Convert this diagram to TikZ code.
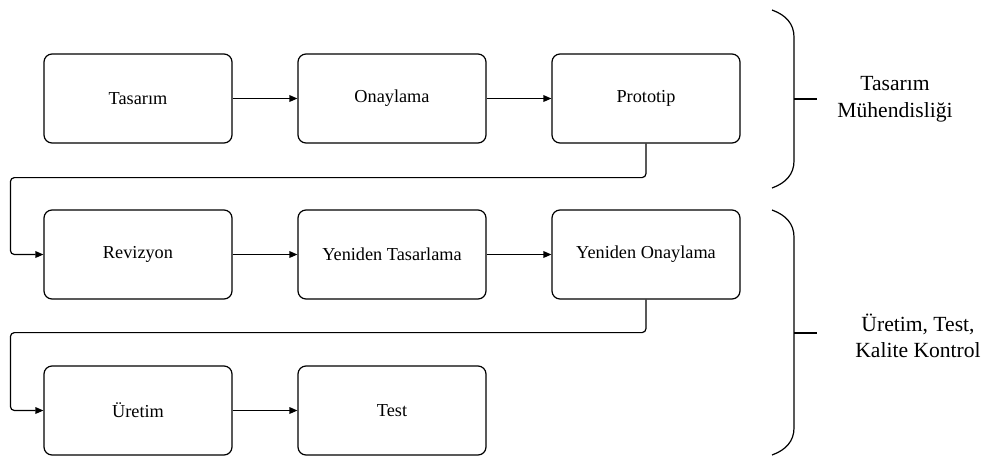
\documentclass[tikz,border=0pt]{standalone}
\usepackage{fontspec}
\setmainfont{Liberation Serif}
\usetikzlibrary{arrows.meta}
\tikzset{
  stepbox/.style={draw, line width=0.9pt, rounded corners=6pt,
    minimum width=141pt, minimum height=66.75pt, inner sep=0pt,
    font=\fontsize{13.7}{16}\selectfont},
  flow/.style={line width=0.9pt, -{Triangle[length=6pt,width=5pt]}},
  loopback/.style={flow, rounded corners=3pt},
  bracket/.style={line width=0.9pt},
  grouplabel/.style={align=center, font=\fontsize{16.2}{20}\selectfont}
}
\begin{document}
\begin{tikzpicture}[x=0.75pt,y=-0.75pt]
\useasboundingbox (0,0) rectangle (983,458);

% process steps
\node[stepbox] (tas) at (138,98.5) {Tasarım};
\node[stepbox] (ona) at (392,98.5) {Onaylama};
\node[stepbox] (pro) at (646,98.5) {Prototip};
\node[stepbox] (rev) at (138,254.5) {Revizyon};
\node[stepbox] (yta) at (392,254.5) {Yeniden Tasarlama};
\node[stepbox] (yon) at (646,254.5) {Yeniden Onaylama};
\node[stepbox] (ure) at (138,410.5) {Üretim};
\node[stepbox] (tes) at (392,410.5) {Test};

% straight links
\draw[flow] (tas) -- (ona);
\draw[flow] (ona) -- (pro);
\draw[flow] (rev) -- (yta);
\draw[flow] (yta) -- (yon);
\draw[flow] (ure) -- (tes);

% row-to-row links
\draw[loopback] (pro.south) -- ++(0,34) -| ([xshift=-24.75pt]rev.west) -- (rev.west);
\draw[loopback] (yon.south) -- ++(0,33) -| ([xshift=-24.75pt]ure.west) -- (ure.west);

% group brackets
\coordinate (b1) at (794,99);
\coordinate (b2) at (794,333);
\draw[bracket] (772,10) .. controls (786,15) and (794,24) .. (794,37)
  -- (794,161) .. controls (794,174) and (786,183) .. (772,188);
\draw[bracket] (772,210) .. controls (786,215) and (794,224) .. (794,237)
  -- (794,428) .. controls (794,441) and (786,450) .. (772,455);

\node[grouplabel] (g1) at (895,99.5) {Tasarım\\Mühendisliği};
\node[grouplabel] (g2) at (918,336) {Üretim, Test,\\Kalite Kontrol};

\draw[bracket] (b1) -- ++(23,0);
\draw[bracket] (b2) -- ++(23,0);
\end{tikzpicture}
\end{document}
